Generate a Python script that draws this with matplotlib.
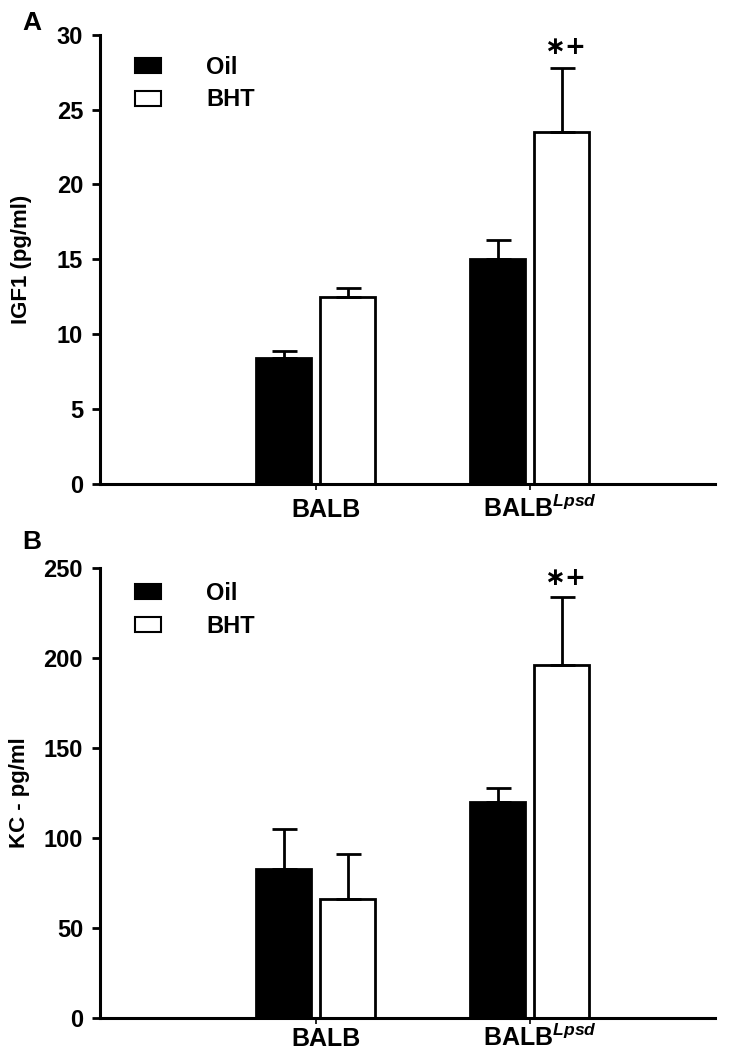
import numpy as np
import matplotlib.pyplot as plt
from matplotlib.patches import Patch

plt.rcParams['font.family'] = ['Liberation Sans', 'DejaVu Sans']
plt.rcParams['font.weight'] = 'bold'
plt.rcParams['mathtext.fontset'] = 'custom'
plt.rcParams['mathtext.it'] = 'Liberation Sans:italic:bold'
plt.rcParams['mathtext.rm'] = 'Liberation Sans:bold'

groups = ['BALB', 'BALB$^{\\mathit{Lpsd}}$']
series = ['Oil', 'BHT']

# panel A: IGF1
igf_oil = [8.4, 15.0]
igf_oil_err = [0.5, 1.3]
igf_bht = [12.5, 23.5]
igf_bht_err = [0.6, 4.3]

# panel B: KC
kc_oil = [83, 120]
kc_oil_err = [22, 8]
kc_bht = [66, 196]
kc_bht_err = [25, 38]

x = np.arange(len(groups))
w = 0.257
off = 0.15

fig = plt.figure(figsize=(7.5, 10.5), dpi=100)


def panel(rect, oil, oil_err, bht, bht_err, ymax, step, ylabel, letter,
          star_y, lab_off, ylab_x, leg_y, letter_y):
    ax = fig.add_axes(rect)
    ax.bar(x - off, oil, w, color='black', edgecolor='black', linewidth=2)
    ax.bar(x + off, bht, w, color='white', edgecolor='black', linewidth=2)
    ax.errorbar(x - off, oil, yerr=[np.zeros(2), oil_err], fmt='none',
                ecolor='black', elinewidth=2, capsize=9, capthick=2)
    ax.errorbar(x + off, bht, yerr=[np.zeros(2), bht_err], fmt='none',
                ecolor='black', elinewidth=2, capsize=9, capthick=2)
    ax.annotate('\u2217+', xy=(x[1] + off, star_y), xytext=(2, 0),
                textcoords='offset points', ha='center', va='center',
                fontsize=18, family=['DejaVu Sans'])
    ax.set_xlim(-1.01, 1.865)
    ax.set_ylim(0, ymax)
    ax.set_yticks(np.arange(0, ymax + 1, step))
    ax.set_xticks(x)
    ax.set_xticklabels([])
    for xi, g in zip(x, groups):
        ax.annotate(g, xy=(xi, 0), xycoords=('data', 'axes fraction'),
                    xytext=(7, lab_off), textcoords='offset points',
                    ha='center', va='baseline', fontsize=18, fontweight='bold')
    ax.tick_params(axis='y', labelsize=17, width=2, length=6, direction='out', pad=6)
    ax.tick_params(axis='x', width=1.2, length=4, direction='out')
    for s in ['top', 'right']:
        ax.spines[s].set_visible(False)
    for s in ['left', 'bottom']:
        ax.spines[s].set_linewidth(2.2)
    ax.set_ylabel(ylabel, fontsize=16, fontweight='bold')
    ax.yaxis.set_label_coords(ylab_x, 0.5)
    handles = [Patch(facecolor='black', edgecolor='black', linewidth=1.5),
               Patch(facecolor='white', edgecolor='black', linewidth=1.5)]
    ax.legend(handles, series, loc='upper left', bbox_to_anchor=(0.035, leg_y),
              frameon=False, fontsize=17, handlelength=1.1, handleheight=0.6,
              handletextpad=1.9, labelspacing=0.4, borderaxespad=0.2)
    ax.text(-0.095, letter_y, letter, transform=ax.transAxes, fontsize=19,
            fontweight='bold', ha='right', va='baseline')
    return ax


panel([0.133, 0.539, 0.82, 0.428], igf_oil, igf_oil_err, igf_bht, igf_bht_err,
      30, 5, 'IGF1 (pg/ml)', 'A', 29.2, -24, -0.11, 0.984, 1.011)
panel([0.133, 0.0305, 0.82, 0.4285], kc_oil, kc_oil_err, kc_bht, kc_bht_err,
      250, 50, 'KC - pg/ml', 'B', 244.7, -20, -0.114, 1.0, 1.042)

fig.savefig('out.png', dpi=100)
